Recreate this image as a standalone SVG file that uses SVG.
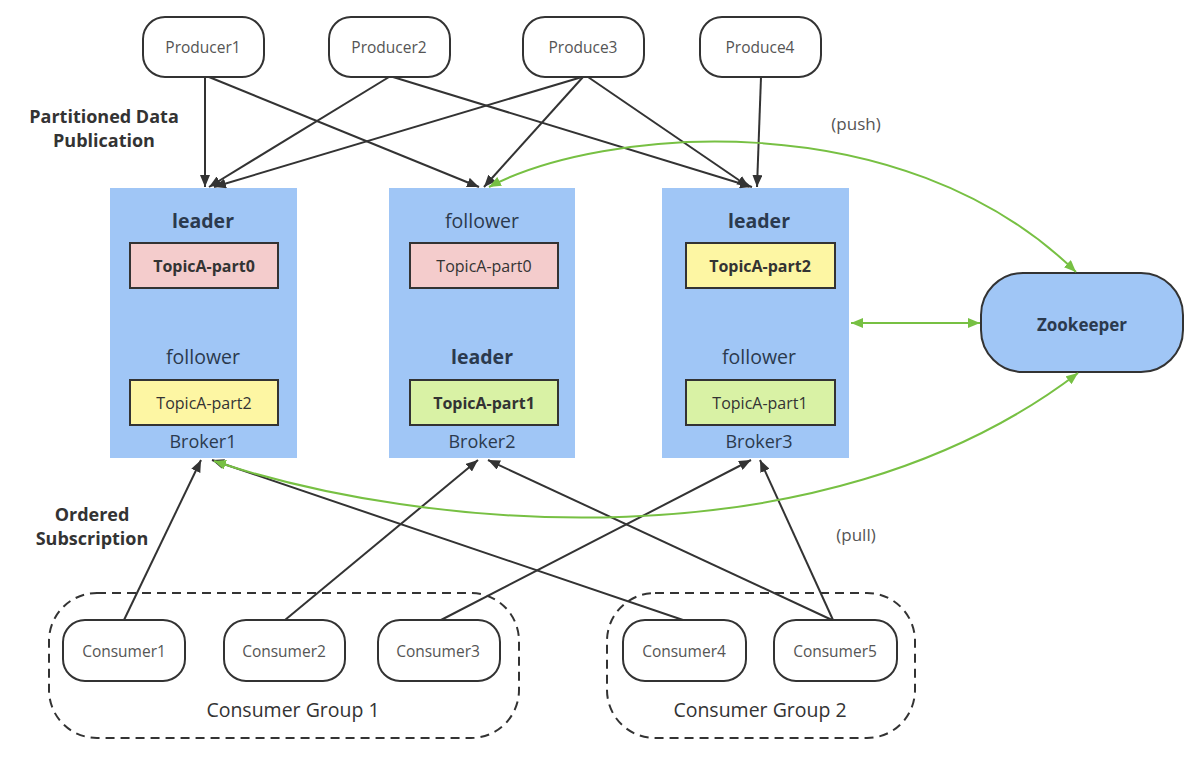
<svg xmlns="http://www.w3.org/2000/svg" width="1192" height="768" viewBox="0 0 1192 768">
<style>
.node{fill:#fff;stroke:#333;stroke-width:2}
.broker{fill:#a0c6f6;stroke:none}
.t{font-family:"Open Sans","Noto Sans","Liberation Sans",sans-serif;text-anchor:middle;dominant-baseline:central}
.small{font-size:15.5px;fill:#555}
.tp{font-size:16px;fill:#333}
.role{font-size:19.5px;fill:#2b3a4e}
.bold{font-weight:bold}
.topic{stroke:#333;stroke-width:2}
.lbl{font-size:18px;fill:#333;font-weight:bold}
.blk{fill:none;stroke:#333;stroke-width:2}
.grn{fill:none;stroke:#77c043;stroke-width:2}
.grp{fill:none;stroke:#333;stroke-width:2;stroke-dasharray:9 6}
</style>
<defs>
<marker id="ah" viewBox="0 0 12 10" refX="12" refY="5" markerWidth="12" markerHeight="10" markerUnits="userSpaceOnUse" orient="auto"><path d="M0,0 L12,5 L0,10 z" fill="#333"/></marker>
<marker id="gh" viewBox="0 0 12 10" refX="12" refY="5" markerWidth="12" markerHeight="10" markerUnits="userSpaceOnUse" orient="auto"><path d="M0,0 L12,5 L0,10 z" fill="#77c043"/></marker>
<marker id="gs" viewBox="0 0 12 10" refX="12" refY="5" markerWidth="12" markerHeight="10" markerUnits="userSpaceOnUse" orient="auto-start-reverse"><path d="M0,0 L12,5 L0,10 z" fill="#77c043"/></marker>
</defs>
<rect width="1192" height="768" fill="#fff"/>

<g id="labels">
<text class="t lbl" x="104" y="116">Partitioned Data</text>
<text class="t lbl" x="104" y="140">Publication</text>
<text class="t lbl" x="92" y="514">Ordered</text>
<text class="t lbl" x="92" y="538">Subscription</text>
<text class="t small" x="856" y="123" style="font-size:17px">(push)</text>
<text class="t small" x="856" y="534" style="font-size:17px">(pull)</text>
</g>

<g id="groups">
<rect id="group1" class="grp" x="49" y="593" width="470" height="145" rx="48"/>
<text class="t" x="293" y="709" style="font-size:19.5px;fill:#333">Consumer Group 1</text>
<rect id="group2" class="grp" x="607" y="593" width="308" height="145" rx="48"/>
<text class="t" x="760" y="709" style="font-size:19.5px;fill:#333">Consumer Group 2</text>
</g>

<g id="producer1"><rect class="node" x="143" y="17" width="121" height="60" rx="22"/><text class="t small" x="203" y="47">Producer1</text></g>
<g id="producer2"><rect class="node" x="329" y="17" width="121" height="60" rx="22"/><text class="t small" x="389" y="47">Producer2</text></g>
<g id="produce3"><rect class="node" x="523" y="17" width="121" height="60" rx="22"/><text class="t small" x="583" y="47">Produce3</text></g>
<g id="produce4"><rect class="node" x="700" y="17" width="121" height="60" rx="22"/><text class="t small" x="760" y="47">Produce4</text></g>

<g id="broker1">
<rect class="broker" x="110" y="188" width="187" height="270"/>
<text class="t role bold" x="203" y="220">leader</text>
<rect class="topic" x="130" y="243" width="148" height="45" fill="#f4cccc"/>
<text class="t tp bold" x="204" y="266">TopicA-part0</text>
<text class="t role" x="203" y="356">follower</text>
<rect class="topic" x="130" y="380" width="148" height="45" fill="#fdf6a3"/>
<text class="t tp" x="204" y="403">TopicA-part2</text>
<text class="t role" x="203" y="441" style="font-size:18px">Broker1</text>
</g>

<g id="broker2">
<rect class="broker" x="389" y="188" width="186" height="270"/>
<text class="t role" x="482" y="220">follower</text>
<rect class="topic" x="410" y="243" width="148" height="45" fill="#f4cccc"/>
<text class="t tp" x="484" y="266">TopicA-part0</text>
<text class="t role bold" x="482" y="356">leader</text>
<rect class="topic" x="410" y="380" width="148" height="45" fill="#d9f2a5"/>
<text class="t tp bold" x="484" y="403">TopicA-part1</text>
<text class="t role" x="482" y="441" style="font-size:18px">Broker2</text>
</g>

<g id="broker3">
<rect class="broker" x="662" y="188" width="187" height="270"/>
<text class="t role bold" x="759" y="220">leader</text>
<rect class="topic" x="686" y="243" width="149" height="45" fill="#fdf6a3"/>
<text class="t tp bold" x="760" y="266">TopicA-part2</text>
<text class="t role" x="759" y="356">follower</text>
<rect class="topic" x="686" y="380" width="149" height="45" fill="#d9f2a5"/>
<text class="t tp" x="760" y="403">TopicA-part1</text>
<text class="t role" x="759" y="441" style="font-size:18px">Broker3</text>
</g>

<g id="zookeeper">
<rect x="981" y="273" width="202" height="99" rx="42" fill="#a0c6f6" stroke="#333" stroke-width="2"/>
<text class="t bold" x="1082" y="324" style="font-size:17px;fill:#2b3a4e">Zookeeper</text>
</g>

<g id="consumer1"><rect class="node" x="63" y="620" width="122" height="61" rx="22"/><text class="t small" x="124" y="651">Consumer1</text></g>
<g id="consumer2"><rect class="node" x="224" y="620" width="121" height="61" rx="22"/><text class="t small" x="284" y="651">Consumer2</text></g>
<g id="consumer3"><rect class="node" x="378" y="620" width="122" height="61" rx="22"/><text class="t small" x="438" y="651">Consumer3</text></g>
<g id="consumer4"><rect class="node" x="623" y="620" width="123" height="61" rx="22"/><text class="t small" x="684" y="651">Consumer4</text></g>
<g id="consumer5"><rect class="node" x="774" y="620" width="123" height="61" rx="22"/><text class="t small" x="835" y="651">Consumer5</text></g>

<g id="connectors">
<line class="blk" x1="205" y1="77" x2="205" y2="187" marker-end="url(#ah)"/>
<line class="blk" x1="209" y1="77" x2="479" y2="187" marker-end="url(#ah)"/>
<line class="blk" x1="389" y1="77" x2="209" y2="187" marker-end="url(#ah)"/>
<line class="blk" x1="393" y1="77" x2="752" y2="187" marker-end="url(#ah)"/>
<line class="blk" x1="582" y1="77" x2="214" y2="187" marker-end="url(#ah)"/>
<line class="blk" x1="583" y1="77" x2="484" y2="187" marker-end="url(#ah)"/>
<line class="blk" x1="588" y1="77" x2="749" y2="187" marker-end="url(#ah)"/>
<line class="blk" x1="761" y1="77" x2="757" y2="187" marker-end="url(#ah)"/>

<line class="blk" x1="124" y1="620" x2="201" y2="460" marker-end="url(#ah)"/>
<line class="blk" x1="285" y1="620" x2="478" y2="460" marker-end="url(#ah)"/>
<line class="blk" x1="441" y1="620" x2="751" y2="460" marker-end="url(#ah)"/>
<line class="blk" x1="683" y1="620" x2="212" y2="460" marker-end="url(#ah)"/>
<line class="blk" x1="832" y1="620" x2="488" y2="460" marker-end="url(#ah)"/>
<line class="blk" x1="833" y1="620" x2="760" y2="460" marker-end="url(#ah)"/>

<path class="grn" d="M489,187 C600,128 900,100 1076,272" marker-start="url(#gs)" marker-end="url(#gh)"/>
<line class="grn" x1="851" y1="323" x2="980" y2="323" marker-start="url(#gs)" marker-end="url(#gh)"/>
<path class="grn" d="M214,461 C420,530 820,570 1078,373" marker-start="url(#gs)" marker-end="url(#gh)"/>
</g>
</svg>
